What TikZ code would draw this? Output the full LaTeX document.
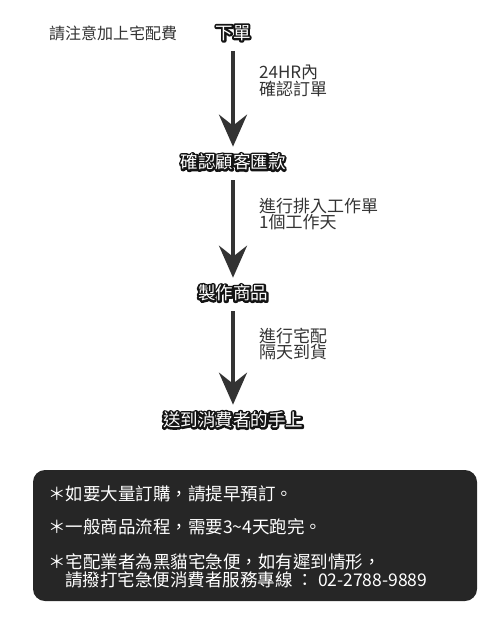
\documentclass[tikz,border=0pt]{standalone}
\usepackage{fontspec}
\usetikzlibrary{arrows.meta}
\setmainfont{Noto Sans CJK TC}
\definecolor{ink}{HTML}{333333}
\definecolor{panel}{HTML}{262626}
% outlined white text: stroked copy underneath, filled copy on top
\newcommand\halo[1]{%
  \special{pdf:literal 1 Tr 4 w 1 j 0.08 0.08 0.08 RG}\rlap{#1}%
  \special{pdf:literal 0 Tr 0.4 w}#1}

\tikzset{
  note/.style={font=\fontsize{16}{16}\selectfont, text=ink, inner sep=0pt},
  lab/.style={font=\fontsize{17}{15}\selectfont, text=ink, align=left, inner sep=0pt, anchor=west},
  stage/.style={font=\fontsize{17.5}{17}\selectfont, text=white, inner sep=2pt},
  memo/.style={font=\fontsize{17.5}{18}\selectfont, text=white, inner sep=0pt, anchor=west},
  flow/.style={line width=4pt, ink, shorten <=8pt, shorten >=5pt,
    -{Stealth[length=32pt,width=28pt,inset=11pt]}}
}

\begin{document}
\begin{tikzpicture}[x=1pt,y=-1pt]
  \useasboundingbox (0,0) rectangle (500,626);
  % steps
  \node[note] (fee) at (113,33) {請注意加上宅配費};
  \node[stage] (order) at (233,33) {\halo{下單}};
  \node[stage] (paid) at (233,162) {\halo{確認顧客匯款}};
  \node[stage] (make) at (233,293) {\halo{製作商品}};
  \node[stage] (ship) at (233,420) {\halo{送到消費者的手上}};
  \draw[flow] (order) -- (paid);
  \draw[flow] (paid) -- (make);
  \draw[flow] (make) -- (ship);
  \node[lab] (within) at (259,81) {24HR內\\確認訂單};
  \node[lab] (queue) at (259,214) {進行排入工作單\\1個工作天};
  \node[lab] (deliver) at (259,344) {進行宅配\\隔天到貨};
  % notes box
  \fill[panel, rounded corners=12pt] (33,470) rectangle (477,601);
  \node[memo] (bulk) at (48,494) {＊如要大量訂購，請提早預訂。};
  \node[memo] (days) at (48,527) {＊一般商品流程，需要3\textasciitilde 4天跑完。};
  \node[memo] (cat) at (48,562) {＊宅配業者為黑貓宅急便，如有遲到情形，};
  \node[memo] (call) at (65,580) {請撥打宅急便消費者服務專線 ： 02-2788-9889};
\end{tikzpicture}
\end{document}
